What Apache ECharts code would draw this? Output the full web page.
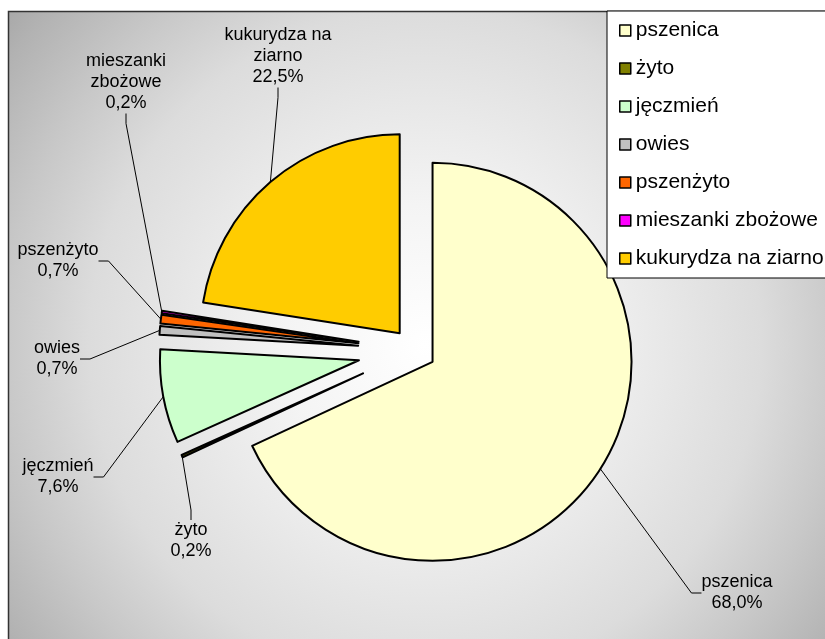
<!DOCTYPE html>
<html>
<head>
<meta charset="utf-8">
<script src="https://cdn.jsdelivr.net/npm/echarts@6/dist/echarts.min.js"></script>
<style>
html, body { margin: 0; padding: 0; background: #fff; }
#chart { width: 825px; height: 639px; }
</style>
</head>
<body>
<div id="chart"></div>
<script>
var categories = ['pszenica', 'żyto', 'jęczmień', 'owies', 'pszenżyto', 'mieszanki zbożowe', 'kukurydza na ziarno'];
var values = [68.0, 0.2, 7.6, 0.7, 0.7, 0.2, 22.5];
var colors = ['#FFFFCC', '#808000', '#CCFFCC', '#C0C0C0', '#FF6600', '#FF00FF', '#FFCC00'];
// slices pulled out less (the two large ones)
var bigSlices = ['pszenica', 'kukurydza na ziarno'];

// label centres, as placed in the original
var labelPos = {
	'pszenica': [737, 593],
	'żyto': [191, 541],
	'jęczmień': [58, 477],
	'owies': [57, 359],
	'pszenżyto': [58, 261],
	'mieszanki zbożowe': [126, 82],
	'kukurydza na ziarno': [278, 56]
};

var font = "'Liberation Sans', Arial, sans-serif";
var center = [414, 350];
var radius = 199;

function labelText(p) {
	var name = p.name.replace(' na ziarno', ' na\nziarno').replace(' zbożowe', '\nzbożowe');
	return name + '\n' + p.value.toFixed(1).replace('.', ',') + '%';
}

function isMine(name, big) {
	return (bigSlices.indexOf(name) >= 0) === big;
}

// exploded slices, no labels
function sliceSeries(big, offset) {
	return {
		type: 'pie',
		center: center,
		radius: radius,
		startAngle: 90,
		selectedMode: 'multiple',
		selectedOffset: offset,
		animation: false,
		emphasis: { disabled: true },
		label: { show: false },
		labelLine: { show: false },
		data: categories.map(function (name, i) {
			if (!isMine(name, big)) {
				return { name: name, value: values[i], itemStyle: { color: 'transparent', borderWidth: 0 } };
			}
			return {
				name: name, value: values[i], selected: true,
				itemStyle: { color: colors[i], borderColor: '#000', borderWidth: 2 }
			};
		})
	};
}

// invisible ring reaching the exploded rim, carries the labels and leader lines
function labelSeries(big, offset) {
	return {
		type: 'pie',
		center: center,
		radius: radius + offset,
		startAngle: 90,
		silent: true,
		animation: false,
		avoidLabelOverlap: false,
		itemStyle: { color: 'transparent', borderWidth: 0 },
		label: {
			show: true,
			formatter: labelText,
			color: '#000',
			fontFamily: font,
			fontSize: 18,
			lineHeight: 21,
			align: 'center'
		},
		labelLine: {
			show: true,
			length: 10,
			length2: 10,
			lineStyle: { color: '#000', width: 1 }
		},
		labelLayout: function (params) {
			var pos = labelPos[categories[params.dataIndex]];
			return { x: pos[0], y: pos[1], align: 'center', verticalAlign: 'middle' };
		},
		data: categories.map(function (name, i) {
			var mine = isMine(name, big);
			return {
				name: name, value: values[i],
				label: { show: mine },
				labelLine: { show: mine }
			};
		})
	};
}

var chart = echarts.init(document.getElementById('chart'));
var option = {
	animation: false,
	graphic: [{
		type: 'rect',
		z: -10,
		shape: { x: 8.5, y: 11.5, width: 840, height: 660 },
		style: {
			fill: new echarts.graphic.RadialGradient(425, 345, 560, [
				{ offset: 0, color: '#ffffff' },
				{ offset: 0.25, color: '#f4f4f4' },
				{ offset: 0.6, color: '#dcdcdc' },
				{ offset: 0.75, color: '#c8c8c8' },
				{ offset: 0.9, color: '#b2b2b2' },
				{ offset: 1, color: '#a0a0a0' }
			], true),
			stroke: '#333',
			lineWidth: 1.5
		}
	}],
	legend: {
		orient: 'vertical',
		left: 607,
		top: 11,
		padding: [9, 2, 9, 12],
		itemGap: 17,
		itemWidth: 11,
		itemHeight: 11,
		selectedMode: false,
		backgroundColor: '#fff',
		borderColor: '#000',
		borderWidth: 1,
		textStyle: { color: '#000', fontFamily: font, fontSize: 21 },
		data: categories.map(function (name, i) {
			return {
				name: name,
				icon: 'rect',
				itemStyle: { color: colors[i], borderColor: '#000', borderWidth: 1.5 }
			};
		})
	},
	series: [
		sliceSeries(true, 22),
		sliceSeries(false, 56),
		labelSeries(true, 22),
		labelSeries(false, 56)
	]
};
chart.setOption(option);
</script>
</body>
</html>
